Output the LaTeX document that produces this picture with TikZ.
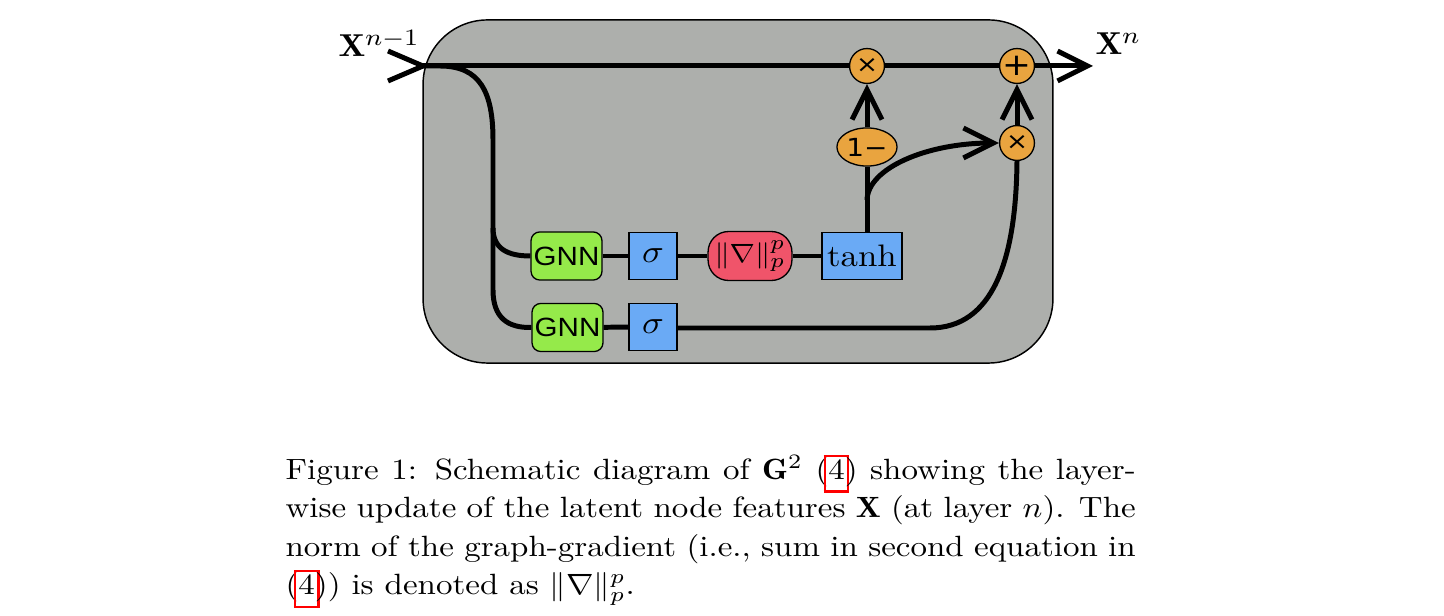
\documentclass[tikz,border=0pt]{standalone}
\usepackage{graphicx}
\usepackage{fontspec}
\newfontfamily\gnnfont{Liberation Sans}
\newfontfamily\symfont{DejaVu Sans}
\usetikzlibrary{arrows.meta,shapes.geometric}
\definecolor{cellgray}{RGB}{173,175,172}
\definecolor{gnngreen}{RGB}{149,234,74}
\definecolor{opblue}{RGB}{106,170,245}
\definecolor{normred}{RGB}{240,84,106}
\definecolor{oporange}{RGB}{233,164,63}
\newcommand\xs[1]{\scalebox{1.12}[1]{#1}}
\newcommand\refbox[1]{\setbox0=\hbox{#1}\makebox[\wd0]{\textcolor{red}{\fboxsep=0.6pt\fboxrule=0.8pt\fbox{\textcolor{black}{\rule[-3.2pt]{0pt}{10.2pt}#1}}}}}
\begin{document}
\begin{tikzpicture}[x=0.341pt,y=-0.341pt,
  wire/.style={line width=1.7pt,draw=black},
  arr/.style={-{Straight Barb[length=10.2pt,width=10.2pt]}},
  box/.style={draw=black,line width=0.45pt,inner sep=0pt},
  gnnbox/.style={box,fill=gnngreen,rounded corners=3pt,minimum width=24.2pt,minimum height=16.4pt,font=\gnnfont\fontsize{9pt}{10pt}\selectfont},
  opbox/.style={box,fill=opblue,minimum height=16.2pt,font=\fontsize{10.6pt}{11pt}\selectfont},
  normbox/.style={box,fill=normred,rounded corners=7pt,minimum width=28.6pt,minimum height=16.7pt,font=\fontsize{9.4pt}{10pt}\selectfont},
  opcirc/.style={box,fill=oporange,circle,minimum size=11.9pt},
  lbl/.style={anchor=base west,inner sep=0pt}]
\useasboundingbox (0,0) rectangle (1444,616);
\fill[white] (0,0) rectangle (1444,616);
% cell
\node[draw=black,line width=0.5pt,fill=cellgray,rounded corners=22pt,minimum width=214.8pt,minimum height=117pt,inner sep=0pt] (cell) at (738,191.5) {};
% operators
\node[opcirc,font=\symfont\fontsize{8pt}{9pt}\selectfont] (mulA) at (867,66) {\xs{×}};
\node[opcirc,font=\symfont\fontsize{10.5pt}{11pt}\selectfont] (plus) at (1017,66) {\xs{+}};
\node[opcirc,font=\symfont\fontsize{8pt}{9pt}\selectfont] (mulB) at (1017,143) {\xs{×}};
\node[box,fill=oporange,ellipse,minimum width=20.5pt,minimum height=13pt,font=\symfont\fontsize{8.5pt}{9pt}\selectfont] (onem) at (867,147) {\xs{1−}};
% blocks
\node[opbox,minimum width=27.3pt] (tanh) at (862,256) {\xs{$\tanh$}};
\node[normbox] (norm) at (750,256) {\xs{$\|\nabla\|_p^p$}};
\node[opbox,minimum width=16.4pt] (sigA) at (653,256) {\xs{$\sigma$}};
\node[gnnbox] (gnnA) at (566.5,256) {\xs{GNN}};
\node[gnnbox] (gnnB) at (567.5,327.5) {\xs{GNN}};
\node[opbox,minimum width=16.4pt] (sigB) at (653,327) {\xs{$\sigma$}};
% labels
\node[lbl,font=\fontsize{10.8pt}{13pt}\selectfont] (xin) at (338,57) {\xs{$\mathbf{X}^{n-1}$}};
\node[lbl,font=\fontsize{10.8pt}{13pt}\selectfont] (xout) at (1095,55) {\xs{$\mathbf{X}^{n}$}};
% coordinates
\coordinate (entry) at (423,66);
\coordinate (chevA) at (388,51);
\coordinate (chevB) at (388,81);
\coordinate (outp) at (1093,66);
\coordinate (b0) at (440,66);
\coordinate (b1) at (480,66);
\coordinate (b2) at (493,92);
\coordinate (b3) at (493,140);
\coordinate (b4) at (493,290);
\coordinate (b5) at (493,318);
\coordinate (b6) at (508,328);
\coordinate (t0) at (493,228);
\coordinate (t1) at (493,249);
\coordinate (t2) at (508,256);
\coordinate (brS) at (867,200);
\coordinate (r0) at (930,328);
\coordinate (r1) at (992,328);
\coordinate (r2) at (1016,262);
% wires
\draw[wire] (chevA) -- (entry) -- (chevB);
\draw[wire] (entry) -- (mulA);
\draw[wire] (mulA) -- (plus);
\draw[wire,arr] (plus) -- (outp);
\draw[wire] (entry) -- (b0) .. controls (b1) and (b2) .. (b3) -- (b4) .. controls (b5) and (b6) .. (gnnB.west);
\draw[wire] (t0) .. controls (t1) and (t2) .. (gnnA.west);
\draw[wire] (gnnA) -- (sigA);
\draw[wire] (sigA) -- (norm);
\draw[wire] (norm) -- (tanh);
\draw[wire] (gnnB) -- (sigB);
\draw[wire] (tanh.north -| onem) -- (onem);
\draw[wire,arr] (onem) -- (mulA);
\draw[wire,arr] (brS) .. controls (868,168) and (927,143) .. (mulB.west);
\draw[wire,arr] (mulB) -- (plus);
\draw[wire] (sigB.east |- r0) -- (r0) .. controls (r1) and (r2) .. (mulB.south);
% caption
\node[anchor=base west,inner sep=0pt] (cap) at (285,479.3) {\scalebox{1.125}[1]{\parbox[t]{257.7pt}{\fontsize{10pt}{13.1pt}\selectfont Figure 1: Schematic diagram of $\mathbf{G}^2$ (\refbox{4}) showing the layer-\linebreak wise update of the latent node features $\mathbf{X}$ (at layer $n$). The\linebreak norm of the graph-gradient (i.e., sum in second equation in\linebreak (\refbox{4})) is denoted as $\|\nabla\|_p^p$.}}};
\end{tikzpicture}
\end{document}
